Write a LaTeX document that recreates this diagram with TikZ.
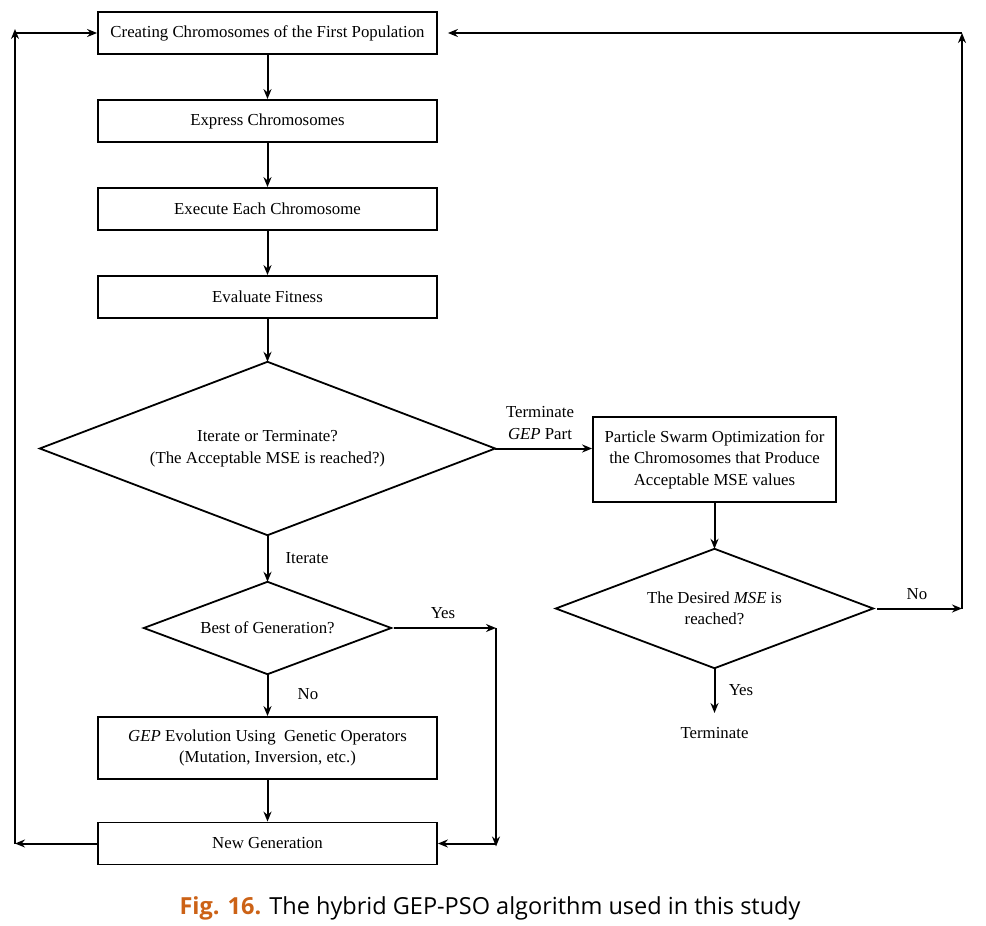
\documentclass[tikz,border=0pt]{standalone}
\usepackage{fontspec}
\setmainfont{Liberation Serif}
\newfontfamily\capfont{Open Sans}
\usetikzlibrary{arrows.meta}
\definecolor{figorange}{RGB}{204,98,22}
\begin{document}
\begin{tikzpicture}[x=1pt,y=-1pt,
  every node/.style={font=\fontsize{16.8}{21.5}\selectfont},
  box/.style={draw,line width=1.8pt,minimum width=339pt,minimum height=42pt,inner sep=0pt,align=center},
  dia/.style={inner sep=0pt,align=center},
  dline/.style={line width=1.8pt,line join=miter},
  arr/.style={line width=2pt,-{Stealth[length=10pt,width=8pt]}},
  lbl/.style={inner sep=0pt,align=center}]
\useasboundingbox (0,0) rectangle (986,926);
\node[box] (b1) at (267.5,33) {Creating Chromosomes of the First Population};
\node[box] (b2) at (267.5,121) {Express Chromosomes};
\node[box] (b3) at (267.5,209) {Execute Each Chromosome};
\node[box] (b4) at (267.5,297) {Evaluate Fitness};
\node[dia,minimum width=455pt,minimum height=173pt] (d1) at (267.5,448.5) {Iterate or Terminate?\\(The Acceptable MSE is reached?)};
\node[dia,minimum width=247pt,minimum height=92pt] (d2) at (267.5,628) {Best of Generation?};
\node[box,minimum height=62pt] (b5) at (267.5,748) {\textit{GEP} Evolution Using\ \ Genetic Operators\\(Mutation, Inversion, etc.)};
\node[box] (b6) at (267.5,843.5) {New Generation};
\node[box,minimum width=243pt,minimum height=85pt] (pso) at (714.5,459.5) {Particle Swarm Optimization for\\the Chromosomes that Produce\\Acceptable MSE values};
\node[dia,minimum width=317pt,minimum height=119pt] (d3) at (714.5,608.5) {The Desired \textit{MSE} is\\reached?};
\foreach \d in {d1,d2,d3}
  \draw[dline] (\d.west) -- (\d.north) -- (\d.east) -- (\d.south) -- cycle;
\node[lbl] (term) at (714.5,733) {Terminate};
\node[lbl] (lterm) at (540,423) {Terminate\\\textit{GEP} Part};
\node[lbl] (lit) at (307,558) {Iterate};
\node[lbl] (lno) at (308,694) {No};
\node[lbl] (lyes) at (443,613) {Yes};
\node[lbl] (lno2) at (917,594) {No};
\node[lbl] (lyes2) at (741,690) {Yes};
\coordinate (yr) at (496,628);
\coordinate (yb) at (496,843.5);
\coordinate (ll) at (15,843.5);
\coordinate (lt) at (15,33);
\coordinate (nr) at (962,608.5);
\coordinate (nt) at (962,33);
\coordinate (tt) at (714.5,713);
\draw[arr] (b1.south) -- (b2.north);
\draw[arr] (b2.south) -- (b3.north);
\draw[arr] (b3.south) -- (b4.north);
\draw[arr] (b4.south) -- (d1.north);
\draw[arr] (d1.south) -- (d2.north);
\draw[arr] (d2.south) -- (b5.north);
\draw[arr] (b5.south) -- (b6.north);
\draw[arr] ([xshift=3pt]d2.east) -- (yr);
\draw[arr] (yr) -- ([yshift=-3pt]yb);
\draw[arr] (yb) -- (b6.east);
\draw[arr] (b6.west) -- (ll);
\draw[arr] (ll) -- ([yshift=4pt]lt);
\draw[arr] (lt) -- (b1.west);
\draw[arr] (d1.east) -- (d1.east -| pso.west);
\draw[arr] (pso.south) -- (d3.north);
\draw[arr] ([xshift=4pt]d3.east) -- (nr);
\draw[arr] (nr) -- (nt);
\draw[arr] (nt) -- ([xshift=10pt]b1.east);
\draw[arr] (d3.south) -- (tt);
\node[inner sep=0pt,font=\capfont\fontsize{23.5}{28}\selectfont] (cap) at (490,908) {\textcolor{figorange}{\bfseries Fig. 16.} The hybrid GEP-PSO algorithm used in this study};
\end{tikzpicture}
\end{document}
